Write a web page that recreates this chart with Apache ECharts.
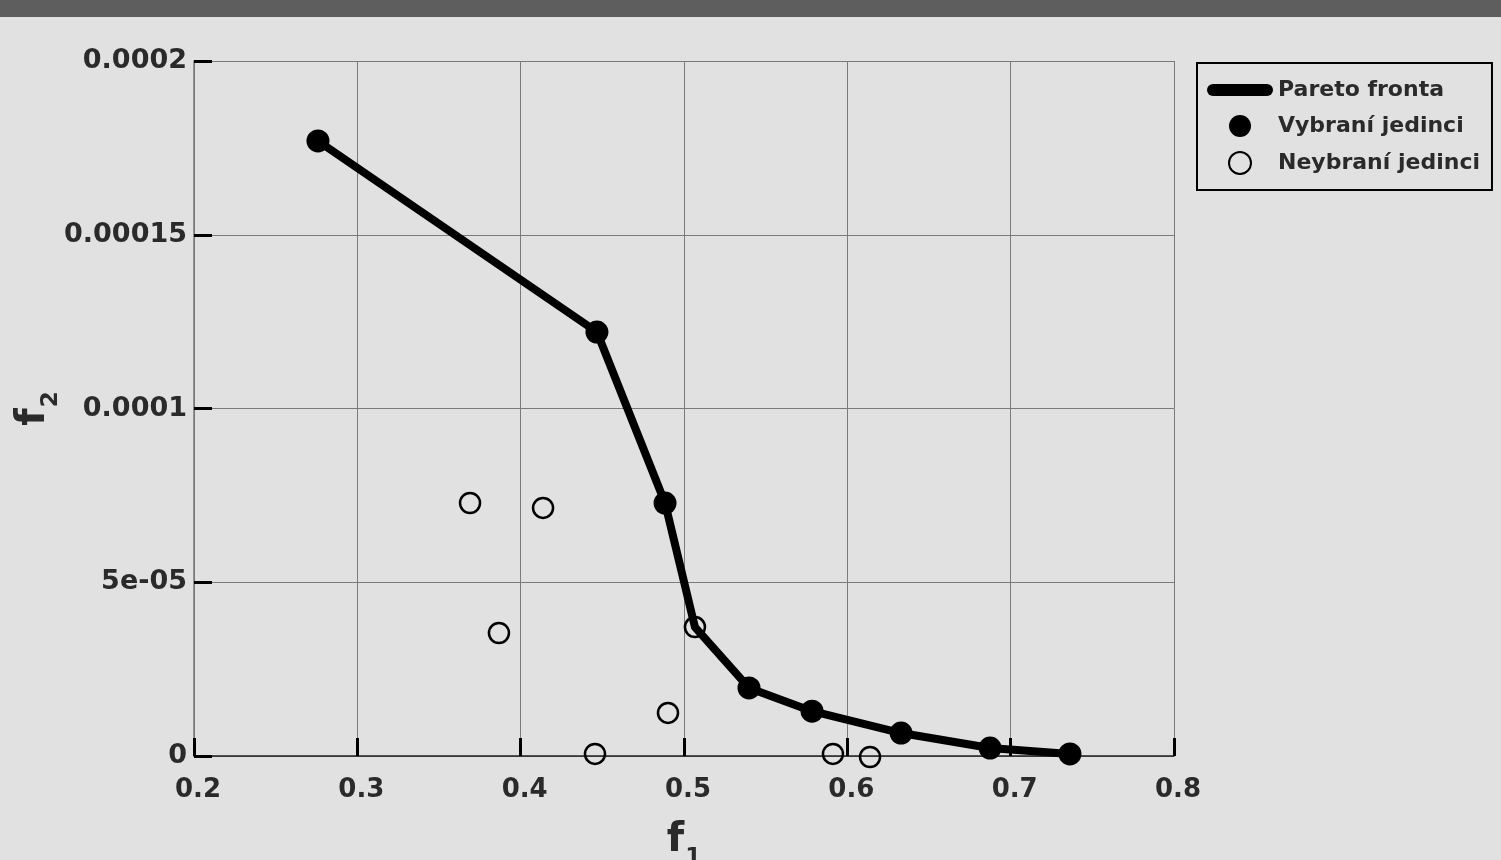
<!DOCTYPE html>
<html>
<head>
<meta charset="utf-8">
<title>Pareto fronta</title>
<script src="https://cdn.jsdelivr.net/npm/echarts@6/dist/echarts.min.js"></script>
<style>
  html, body { margin: 0; padding: 0; background: #e1e1e1; }
  #chart { width: 1501px; height: 860px; }
</style>
</head>
<body>
<div id="chart"></div>
<script>
// line of the pareto front (includes the bend without a filled marker)
const frontF1 = [0.2759, 0.4467, 0.4884, 0.5067, 0.5398, 0.5784, 0.6329, 0.6874, 0.7363];
const frontF2 = [0.000177, 0.000122, 0.0000728, 0.0000371, 0.0000196, 0.0000129, 0.0000066, 0.0000023, 0.0000006];

// selected individuals (filled)
const selF1 = [0.2759, 0.4467, 0.4884, 0.5398, 0.5784, 0.6329, 0.6874, 0.7363];
const selF2 = [0.000177, 0.000122, 0.0000728, 0.0000196, 0.0000129, 0.0000066, 0.0000023, 0.0000006];

// not selected individuals (open)
const unselF1 = [0.3690, 0.4137, 0.3867, 0.5067, 0.4902, 0.4455, 0.5912, 0.6139];
const unselF2 = [0.0000728, 0.0000714, 0.0000354, 0.0000371, 0.0000124, 0.0000006, 0.0000006, -0.0000003];

const xTicks = ['0.2', '0.3', '0.4', '0.5', '0.6', '0.7', '0.8'];
const yTicks = ['0', '5e-05', '0.0001', '0.00015', '0.0002'];

const zip = (a, b) => a.map((v, i) => [v, b[i]]);

const font = 'DejaVu Sans';
const textColor = '#2a2a2a';

// f with a subscript, used for both axis names
const subRich = {
  f: { fontSize: 40, fontWeight: 'bold', color: textColor, fontFamily: font },
  s: { fontSize: 23, fontWeight: 'bold', color: textColor, fontFamily: font, padding: [36, 0, 0, 1] }
};

const chart = echarts.init(document.getElementById('chart'));

const option = {
  animation: false,
  backgroundColor: '#e1e1e1',
  textStyle: { fontFamily: font },
  graphic: [
    { type: 'rect', left: 0, top: 0, shape: { width: 1501, height: 17 }, style: { fill: '#5e5e5e' }, silent: true }
  ],
  grid: { left: 194, right: 327, top: 61, bottom: 104, containLabel: false, outerBoundsMode: 'none' },
  legend: {
    orient: 'vertical',
    left: 1197,
    top: 63,
    padding: [16, 12, 15, 10],
    itemWidth: 66,
    itemHeight: 22,
    itemGap: 14,
    borderColor: '#000',
    borderWidth: 2,
    textStyle: { fontSize: 22, fontWeight: 'bold', color: textColor, fontFamily: font },
    data: [
      { name: 'Pareto fronta', icon: 'path://M6,0 L60,0 A6,6 0 0 1 60,12 L6,12 A6,6 0 0 1 6,0 Z' },
      { name: 'Vybraní jedinci', icon: 'circle' },
      { name: 'Neybraní jedinci', icon: 'circle' }
    ]
  },
  xAxis: {
    type: 'value',
    min: 0.2,
    max: 0.8,
    interval: 0.1,
    name: '{f|f}{s|1}',
    nameLocation: 'middle',
    nameGap: 55,
    nameMoveOverlap: false,
    nameTextStyle: { rich: subRich },
    axisLine: { show: true, onZero: false, lineStyle: { color: '#222', width: 1.5 } },
    axisTick: { show: true, inside: true, length: 18, lineStyle: { color: '#000', width: 3 } },
    axisLabel: {
      fontSize: 26, fontWeight: 'bold', color: textColor, margin: 21, padding: [0, 0, 0, 8],
      formatter: (v) => xTicks[Math.round((v - 0.2) / 0.1)]
    },
    splitLine: { show: true, lineStyle: { color: '#7a7a7a', width: 1 } }
  },
  yAxis: {
    type: 'value',
    min: 0,
    max: 0.0002,
    interval: 0.00005,
    name: '{f|f}{s|2}',
    nameLocation: 'middle',
    nameGap: 131,
    nameRotate: 90,
    nameMoveOverlap: false,
    nameTextStyle: { rich: subRich },
    axisLine: { show: true, onZero: false, lineStyle: { color: '#777', width: 1.5 } },
    axisTick: { show: true, inside: true, length: 18, lineStyle: { color: '#000', width: 3 } },
    axisLabel: {
      fontSize: 27, fontWeight: 'bold', color: textColor, margin: 7, padding: [5, 0, 0, 0],
      formatter: (v) => yTicks[Math.round(v / 0.00005)]
    },
    splitLine: { show: true, lineStyle: { color: '#7a7a7a', width: 1 } }
  },
  series: [
    {
      name: 'Pareto fronta',
      type: 'line',
      data: zip(frontF1, frontF2),
      showSymbol: false,
      symbol: 'none',
      color: '#000',
      lineStyle: { color: '#000', width: 8, cap: 'round', join: 'round' },
      emphasis: { disabled: true },
      z: 2
    },
    {
      name: 'Vybraní jedinci',
      type: 'scatter',
      data: zip(selF1, selF2),
      symbol: 'circle',
      symbolSize: 23,
      itemStyle: { color: '#000', opacity: 1 },
      emphasis: { disabled: true },
      clip: false,
      z: 3
    },
    {
      name: 'Neybraní jedinci',
      type: 'scatter',
      data: zip(unselF1, unselF2),
      symbol: 'circle',
      symbolSize: 20,
      itemStyle: { color: 'transparent', borderColor: '#000', borderWidth: 2.5, opacity: 1 },
      emphasis: { disabled: true },
      clip: false,
      z: 4
    }
  ]
};

chart.setOption(option);
</script>
</body>
</html>
